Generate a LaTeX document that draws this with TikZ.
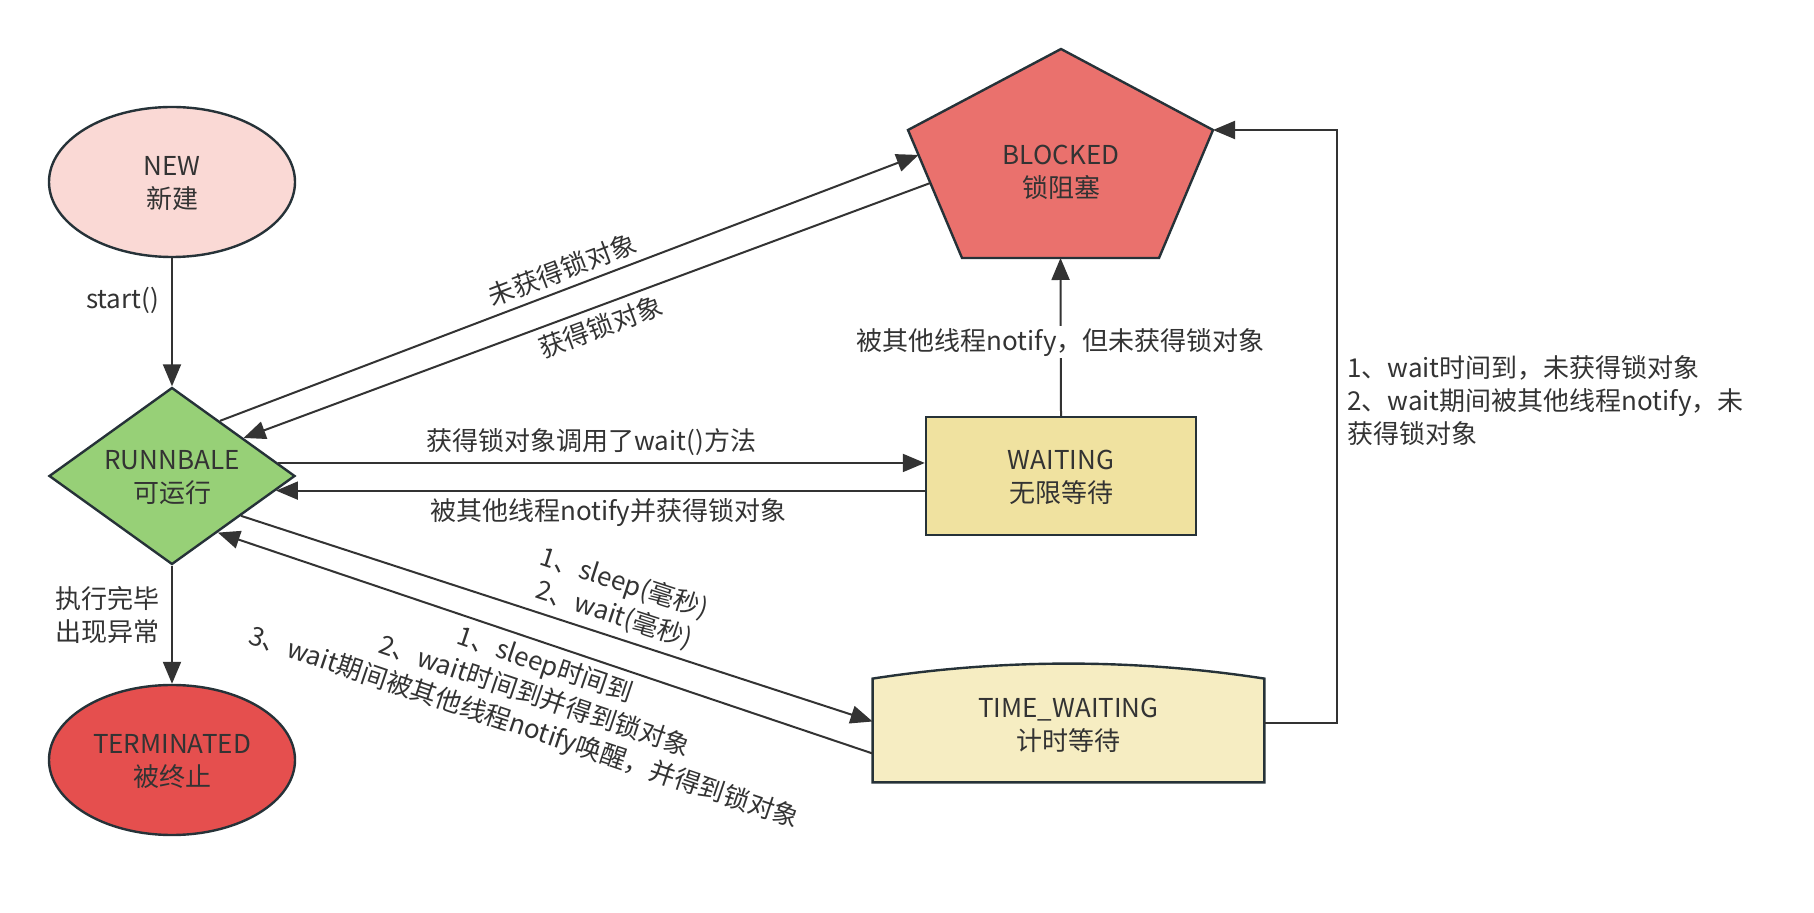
\documentclass[tikz,border=0pt]{standalone}
\usepackage{fontspec}
\setmainfont{Noto Sans CJK SC}
\usetikzlibrary{shapes.geometric,arrows.meta,calc}
\pgfdeclarelayer{bg}
\pgfsetlayers{bg,main}
\definecolor{txt}{HTML}{333333}
\definecolor{edgec}{HTML}{333333}
\definecolor{outl}{HTML}{263238}
\definecolor{cnew}{HTML}{FAD9D5}
\definecolor{crun}{HTML}{97D077}
\definecolor{cterm}{HTML}{E54F4E}
\definecolor{cblk}{HTML}{EA716D}
\definecolor{cwait}{HTML}{F0E2A0}
\definecolor{ctw}{HTML}{F6EDC2}
\newcommand\twolines[2]{\raisebox{-1.75pt}[\height][\depth]{\begin{tabular}{@{}c@{}}#1\\#2\end{tabular}}}
\begin{document}
\begin{tikzpicture}[x=0.5pt,y=-0.5pt,
  every node/.style={text=txt, font=\fontsize{13pt}{16.5pt}\selectfont, align=center},
  shapebox/.style={draw=outl, line width=1.2pt},
  arr/.style={draw=edgec, line width=1pt, -{Triangle[length=11pt,width=9pt]}},
  lbl/.style={inner sep=2pt}]
\useasboundingbox (0,0) rectangle (1814,913);

% state nodes
\node[shapebox, ellipse, fill=cnew, minimum width=123pt, minimum height=75pt, inner sep=0pt] (new) at (172,182) {\twolines{NEW}{新建}};
\node[shapebox, diamond, fill=crun, minimum width=123pt, minimum height=88.5pt, aspect=1.39, inner sep=0pt] (run) at (172,476) {\twolines{RUNNBALE}{可运行}};
\node[shapebox, ellipse, fill=cterm, minimum width=123pt, minimum height=75pt, inner sep=0pt] (term) at (172,760) {\twolines{TERMINATED}{被终止}};
\node[shapebox, rectangle, fill=cwait, minimum width=135pt, minimum height=59pt] (wait) at (1061,476) {\twolines{WAITING}{无限等待}};

% BLOCKED pentagon
\coordinate (pT) at (1061,49);
\coordinate (pL) at (908,130);
\coordinate (pR) at (1213,130);
\coordinate (pBL) at (962,258);
\coordinate (pBR) at (1159,258);
\draw[shapebox, fill=cblk] (pT) -- (pR) -- (pBR) -- (pBL) -- (pL) -- cycle;
\node (blocked) at (1061,172) {BLOCKED\\锁阻塞};
\coordinate (bIn) at ($(pL)!0.195!(pBL)$);
\coordinate (bOut) at ($(pL)!0.414!(pBL)$);
\coordinate (bBot) at ($(pBL)!0.5!(pBR)$);

% TIME_WAITING
\node[minimum width=195.5pt, minimum height=56.5pt, inner sep=0pt] (tw) at (1068.5,725.5) {TIME\_WAITING\\计时等待};
\begin{pgfonlayer}{bg}
\draw[shapebox, fill=ctw] (tw.south west) -- ([yshift=-5pt]tw.north west)
  .. controls ([xshift=65pt,yshift=5pt]tw.north west) and ([xshift=-65pt,yshift=5pt]tw.north east)
  .. ([yshift=-5pt]tw.north east) -- (tw.south east) -- cycle;
\end{pgfonlayer}

% connectors
\draw[arr] (new.south) -- node[pos=0.33, left=4pt, lbl] {start()} (run.north);
\draw[arr] (run.south) -- node[pos=0.42, left=4pt, lbl] {执行完毕\\出现异常} (term.north);
\draw[arr] (run.49.5) -- node[sloped, above, pos=0.5] {未获得锁对象} (bIn);
\draw[arr] (bOut) -- node[sloped, below, pos=0.49] {获得锁对象} (run.28.8);
\draw[arr] (run.7.6) -- node[above, pos=0.484] {获得锁对象调用了wait()方法} (run.7.6 -| wait.west);
\draw[arr] (run.-8.4 -| wait.west) -- node[below, pos=0.488] {被其他线程notify并获得锁对象} (run.-8.4);
\draw[arr] (run.-30.1) -- node[sloped, above, pos=0.58] {1、sleep(毫秒)\\2、wait(毫秒)} ([yshift=2pt]tw.west);
\draw[arr] ([yshift=-14pt]tw.west) -- node[sloped, below, pos=0.49] {1、sleep时间到\\2、wait时间到并得到锁对象\\3、wait期间被其他线程notify唤醒，并得到锁对象} (run.-51.1);
\draw[arr] (wait.north) -- node[pos=0.465, fill=white, inner sep=1pt] {被其他线程notify，但未获得锁对象} (bBot);
\draw[arr] ([yshift=1.25pt]tw.east) -- ++(73,0) |- (pR);
\node[anchor=west, align=left] (note) at (1340,401) {1、wait时间到，未获得锁对象\\2、wait期间被其他线程notify，未\\获得锁对象};
\end{tikzpicture}
\end{document}
